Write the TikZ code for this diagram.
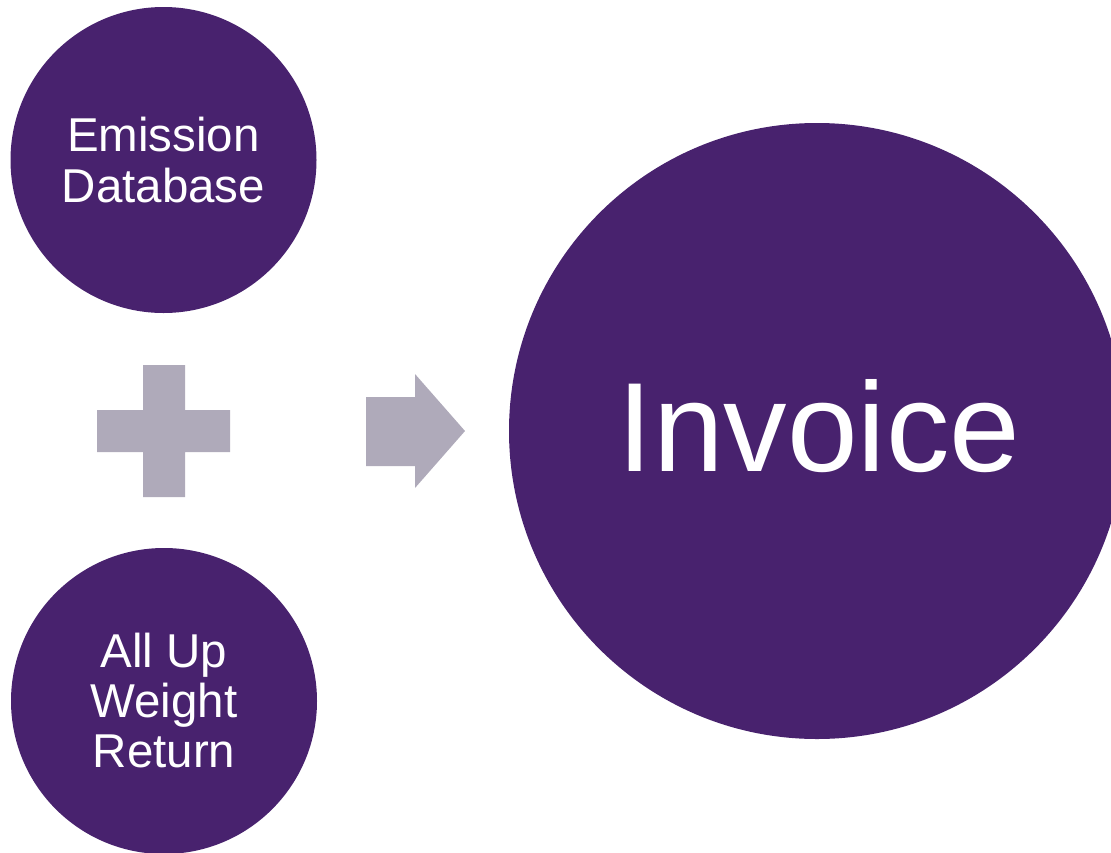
\documentclass[tikz,border=0pt]{standalone}
\usepackage{fontspec}
\setmainfont{Liberation Sans}
\definecolor{plum}{RGB}{72,34,110}
\definecolor{mist}{RGB}{175,170,186}
\begin{document}
\begin{tikzpicture}[x=1pt,y=-1pt,
  disc/.style={circle,fill=plum,draw=none,inner sep=0pt,text=white,align=center},
  sign/.style={fill=mist,draw=none}]
\useasboundingbox (0,0) rectangle (1111,852);
\clip (0,0) rectangle (1111,852);
% input circles
\node[disc,minimum size=306pt,font=\fontsize{47.5}{51}\selectfont] (emission) at (163.5,160) {Emission\\Database};
\node[disc,minimum size=306pt,font=\fontsize{47.5}{50}\selectfont] (weight) at (164,701) {All Up\\Weight\\Return};
% result circle
\node[disc,minimum size=616pt] (invoice) at (817,431) {};
\node[text=white,anchor=base,inner sep=0pt,font=\fontsize{127}{140}\selectfont] (invoicetext) at (819,471) {Invoice};
% plus sign
\path[sign] (143,365) -- (185,365) -- (185,410) -- (230,410) -- (230,452) -- (185,452)
  -- (185,497) -- (143,497) -- (143,452) -- (97,452) -- (97,410) -- (143,410) -- cycle;
% block arrow
\path[sign] (366,397) -- (415,397) -- (415,374) -- (465,431) -- (415,488) -- (415,466)
  -- (366,466) -- cycle;
\end{tikzpicture}
\end{document}
